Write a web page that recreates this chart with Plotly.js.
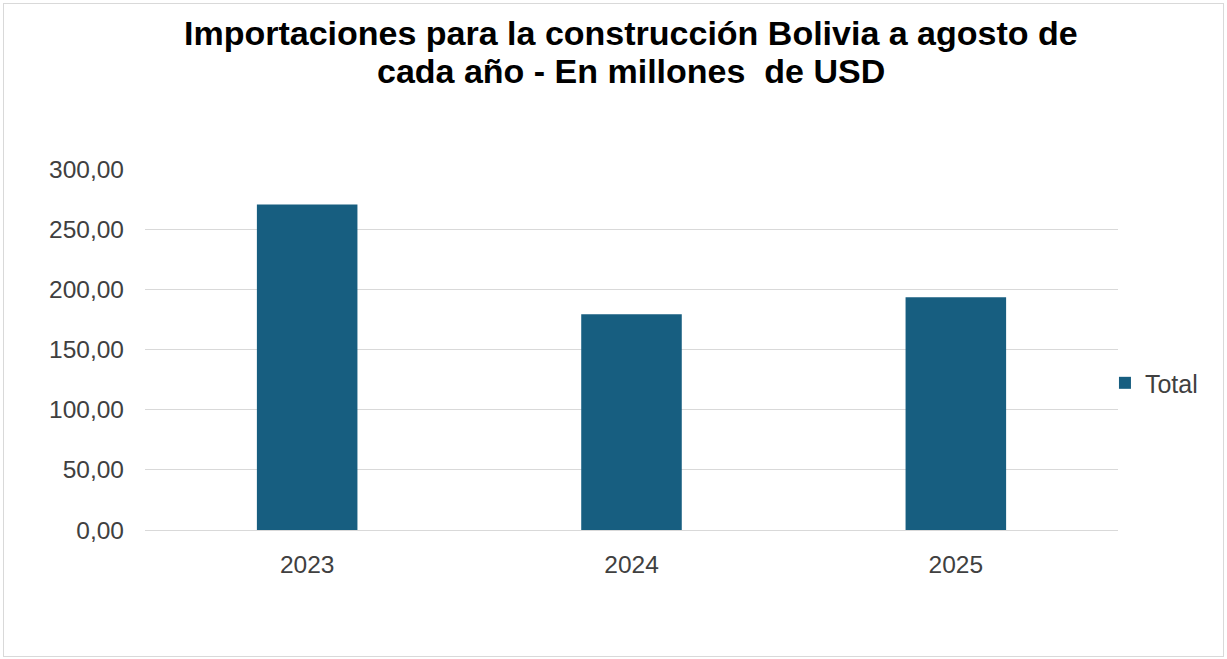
<!DOCTYPE html>
<html>
<head>
<meta charset="utf-8">
<script src="https://cdn.plot.ly/plotly-3.0.1.min.js"></script>
<style>
  html, body { margin: 0; padding: 0; background: #fff; }
  #chart { width: 1227px; height: 659px; position: relative; }
  #frame { position: absolute; left: 3px; top: 3px; width: 1219px; height: 652px;
           border: 1px solid #d9d9d9; pointer-events: none; z-index: 10; }
</style>
</head>
<body>
<div id="chart"></div>
<div id="frame"></div>
<script>
const years = ["2023", "2024", "2025"];
const totals = [270.5, 179.3, 193.4];
const seriesName = "Total";
const titleLines = ["Importaciones para la construcción Bolivia a agosto de",
                    "cada año - En millones  de USD"];

const font = "Liberation Sans, Arial, sans-serif";
const titleFont = { family: font, size: 34, color: "#000000", weight: "bold" };

Plotly.newPlot("chart", [{
  type: "bar",
  x: years,
  y: totals,
  name: seriesName,
  marker: { color: "#175e80" },
  showlegend: true
}], {
  width: 1227, height: 659,
  paper_bgcolor: "#ffffff",
  plot_bgcolor: "#ffffff",
  margin: { l: 145, r: 109, t: 168.5, b: 129 },
  bargap: 0.69,
  font: { family: font, color: "#404040", size: 24 },
  annotations: [
    { text: "<b>" + titleLines[0] + "</b>", xref: "paper", yref: "paper",
      x: (631 - 145) / 973, xanchor: "center",
      y: 1 + (168.5 - 32) / 361.5, yanchor: "middle",
      showarrow: false, font: titleFont },
    { text: "<b>" + titleLines[1] + "</b>", xref: "paper", yref: "paper",
      x: (631 - 145) / 973, xanchor: "center",
      y: 1 + (168.5 - 70) / 361.5, yanchor: "middle",
      showarrow: false, font: titleFont }
  ],
  xaxis: {
    type: "category",
    showgrid: false,
    showline: true, linecolor: "#d9d9d9", linewidth: 1,
    ticks: "",
    ticklabelstandoff: 13,
    tickfont: { family: font, size: 24.5, color: "#404040" }
  },
  yaxis: {
    range: [0, 300],
    dtick: 50,
    tickformat: ".2f",
    showgrid: true, gridcolor: "#d9d9d9", gridwidth: 1,
    zeroline: true, zerolinecolor: "#d9d9d9", zerolinewidth: 1,
    showline: false,
    ticks: "",
    ticklabelstandoff: 20,
    tickfont: { family: font, size: 24.5, color: "#404040" }
  },
  separators: ",.",
  showlegend: true,
  legend: {
    x: 0.9866, xanchor: "left",
    y: 0.407, yanchor: "middle",
    font: { family: font, size: 25, color: "#404040" },
    itemwidth: 30
  }
}, { displayModeBar: false, staticPlot: true });
</script>
</body>
</html>
